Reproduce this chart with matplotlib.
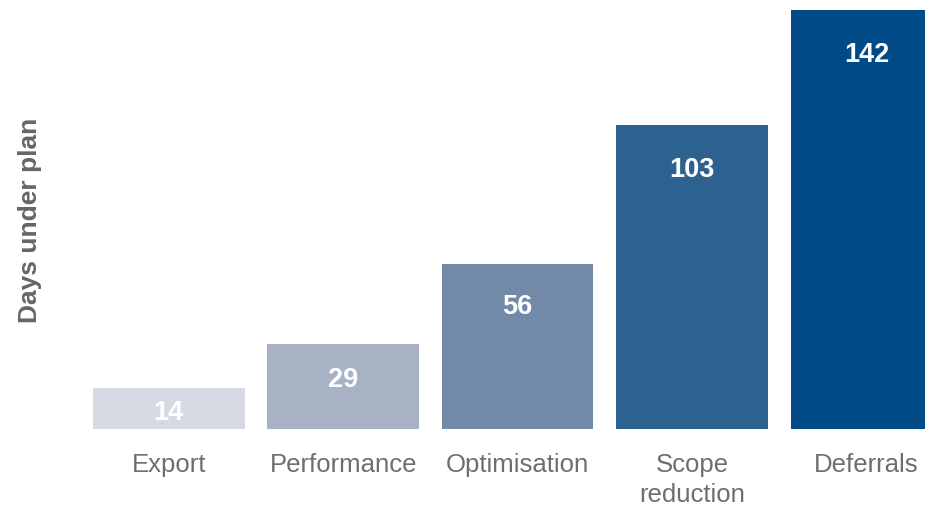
import numpy as np
import matplotlib.pyplot as plt

categories = ["Export", "Performance", "Optimisation", "Scope\nreduction", "Deferrals"]
days = [14, 29, 56, 103, 142]
colors = ["#d5dae2", "#a7b2c5", "#7389a8", "#2d6290", "#004a87"]

plt.rcParams["font.family"] = ["Liberation Sans", "DejaVu Sans"]

fig = plt.figure(figsize=(9.25, 5.06), dpi=100)
ax = fig.add_axes([0.0882, 0.150, 0.9427, 0.8457])

x = np.arange(len(days))
bars = ax.bar(x, days, width=0.87, color=colors, zorder=2)

# value labels sit a fixed distance below the bar top, pulled down on short bars
for xi, v in zip(x, days):
    off = 15 * (1 - np.exp(-v / 18))
    ax.text(xi, v - off, str(v), ha="center", va="center",
            color="white", fontsize=19.5, fontweight="bold")

ax.set_xlim(-0.5, 4.5)
ax.set_ylim(0, 145)
ax.set_xticks(x)
ax.set_xticklabels(categories, fontsize=18.5, color="#6e6e6e", linespacing=1.3)
ax.tick_params(axis="x", length=0, pad=16.5)
ax.set_yticks([])
for s in ax.spines.values():
    s.set_visible(False)

fig.text(0.032, 0.565, "Days under plan", rotation=90, ha="center", va="center",
         fontsize=19, fontweight="bold", color="#666666")

fig.savefig("out.png", dpi=100)
